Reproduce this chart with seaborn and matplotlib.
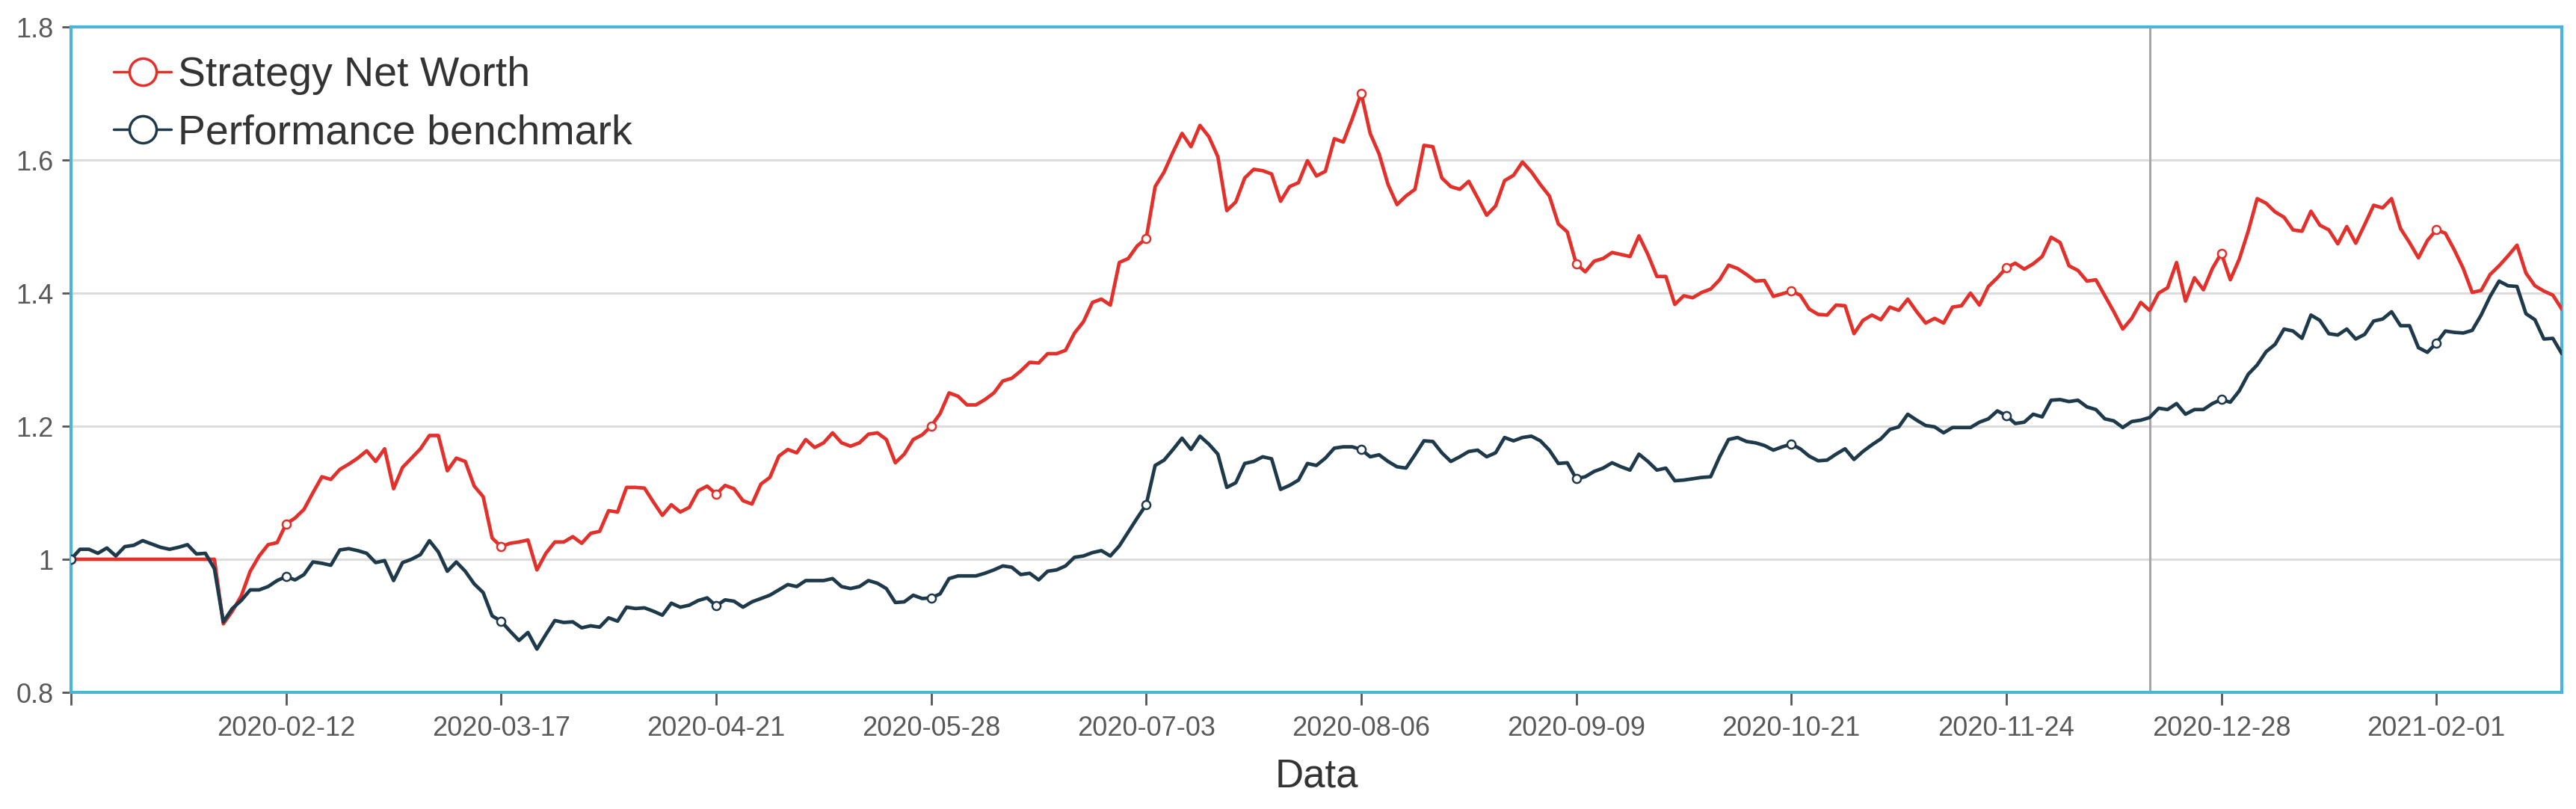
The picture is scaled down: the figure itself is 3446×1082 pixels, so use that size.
import numpy as np
import pandas as pd
import seaborn as sns
import matplotlib.pyplot as plt
from matplotlib.lines import Line2D

# A-share trading calendar (exchange holidays that fall on weekdays)
holidays = ['2020-01-01', '2020-01-24', '2020-01-27', '2020-01-28', '2020-01-29',
            '2020-01-30', '2020-01-31', '2020-04-06', '2020-05-01', '2020-05-04',
            '2020-05-05', '2020-06-25', '2020-06-26', '2020-10-01', '2020-10-02',
            '2020-10-05', '2020-10-06', '2020-10-07', '2020-10-08', '2021-01-01',
            '2021-02-11', '2021-02-12', '2021-02-15', '2021-02-16', '2021-02-17']
trade_days = pd.bdate_range('2019-12-31', '2021-02-26', freq='C', holidays=holidays)

# Strategy net worth, one value per trading day
strategy = [
    1.000, 1.000, 1.000, 1.000, 1.000, 1.000, 1.000, 1.000, 1.000, 1.000,
    1.000, 1.000, 1.000, 1.000, 1.000, 1.000, 1.000, 0.903, 0.922, 0.945,
    0.982, 1.005, 1.022, 1.025, 1.053, 1.062, 1.075, 1.100, 1.124, 1.120,
    1.135, 1.143, 1.152, 1.163, 1.147, 1.166, 1.106, 1.138, 1.152, 1.166,
    1.186, 1.186, 1.133, 1.152, 1.147, 1.110, 1.094, 1.032, 1.019, 1.024,
    1.026, 1.029, 0.984, 1.009, 1.026, 1.026, 1.034, 1.024, 1.039, 1.042,
    1.073, 1.071, 1.108, 1.108, 1.107, 1.086, 1.066, 1.082, 1.071, 1.078,
    1.103, 1.110, 1.098, 1.111, 1.106, 1.088, 1.083, 1.113, 1.123, 1.155,
    1.165, 1.160, 1.180, 1.168, 1.175, 1.190, 1.175, 1.170, 1.175, 1.188,
    1.190, 1.180, 1.145, 1.158, 1.180, 1.187, 1.200, 1.219, 1.250, 1.245,
    1.232, 1.232, 1.240, 1.250, 1.268, 1.272, 1.283, 1.296, 1.295, 1.309,
    1.309, 1.314, 1.340, 1.357, 1.386, 1.391, 1.382, 1.446, 1.452, 1.471,
    1.482, 1.560, 1.582, 1.612, 1.640, 1.620, 1.652, 1.635, 1.605, 1.524,
    1.537, 1.573, 1.586, 1.584, 1.579, 1.538, 1.560, 1.566, 1.599, 1.576,
    1.583, 1.632, 1.627, 1.662, 1.700, 1.640, 1.609, 1.563, 1.533, 1.546,
    1.556, 1.622, 1.620, 1.573, 1.560, 1.556, 1.568, 1.543, 1.517, 1.531,
    1.569, 1.577, 1.597, 1.582, 1.563, 1.546, 1.504, 1.492, 1.444, 1.432,
    1.448, 1.452, 1.461, 1.458, 1.455, 1.486, 1.458, 1.425, 1.425, 1.383,
    1.396, 1.393, 1.401, 1.406, 1.420, 1.442, 1.437, 1.428, 1.418, 1.419,
    1.395, 1.399, 1.403, 1.397, 1.376, 1.368, 1.367, 1.382, 1.381, 1.339,
    1.359, 1.367, 1.360, 1.379, 1.374, 1.391, 1.372, 1.355, 1.362, 1.355,
    1.379, 1.381, 1.400, 1.382, 1.410, 1.423, 1.438, 1.445, 1.436, 1.444,
    1.455, 1.484, 1.476, 1.441, 1.434, 1.418, 1.420, 1.396, 1.372, 1.346,
    1.362, 1.386, 1.374, 1.400, 1.408, 1.446, 1.388, 1.423, 1.405, 1.437,
    1.460, 1.420, 1.451, 1.493, 1.542, 1.535, 1.522, 1.514, 1.495, 1.493,
    1.523, 1.502, 1.495, 1.474, 1.500, 1.475, 1.503, 1.532, 1.528, 1.542,
    1.497, 1.476, 1.453, 1.479, 1.495, 1.490, 1.465, 1.437, 1.401, 1.404,
    1.428, 1.441, 1.456, 1.472, 1.430, 1.411, 1.403, 1.397, 1.376,
]

# Performance benchmark, one value per trading day
benchmark = [
    1.000, 1.015, 1.015, 1.009, 1.017, 1.005, 1.019, 1.021, 1.028, 1.023,
    1.018, 1.015, 1.018, 1.022, 1.008, 1.009, 0.986, 0.906, 0.926, 0.938,
    0.954, 0.954, 0.959, 0.968, 0.974, 0.969, 0.977, 0.996, 0.994, 0.991,
    1.014, 1.016, 1.013, 1.009, 0.995, 0.998, 0.968, 0.995, 1.000, 1.007,
    1.028, 1.011, 0.982, 0.996, 0.982, 0.963, 0.950, 0.915, 0.907, 0.892,
    0.878, 0.890, 0.865, 0.887, 0.908, 0.905, 0.906, 0.897, 0.900, 0.898,
    0.912, 0.907, 0.928, 0.926, 0.927, 0.922, 0.916, 0.934, 0.928, 0.931,
    0.938, 0.942, 0.930, 0.939, 0.937, 0.928, 0.936, 0.941, 0.946, 0.954,
    0.962, 0.959, 0.968, 0.968, 0.968, 0.971, 0.959, 0.956, 0.959, 0.968,
    0.964, 0.956, 0.935, 0.936, 0.946, 0.941, 0.942, 0.948, 0.971, 0.975,
    0.975, 0.975, 0.979, 0.984, 0.990, 0.988, 0.977, 0.979, 0.969, 0.982,
    0.984, 0.990, 1.003, 1.005, 1.010, 1.013, 1.005, 1.020, 1.041, 1.062,
    1.082, 1.141, 1.149, 1.165, 1.182, 1.165, 1.185, 1.173, 1.158, 1.108,
    1.115, 1.144, 1.147, 1.154, 1.151, 1.105, 1.111, 1.119, 1.144, 1.141,
    1.152, 1.167, 1.169, 1.169, 1.165, 1.154, 1.157, 1.147, 1.139, 1.137,
    1.157, 1.178, 1.177, 1.160, 1.147, 1.154, 1.162, 1.164, 1.154, 1.160,
    1.183, 1.178, 1.183, 1.185, 1.178, 1.164, 1.144, 1.145, 1.121, 1.124,
    1.132, 1.137, 1.145, 1.139, 1.134, 1.158, 1.147, 1.134, 1.137, 1.118,
    1.119, 1.121, 1.123, 1.124, 1.154, 1.180, 1.183, 1.177, 1.175, 1.171,
    1.164, 1.169, 1.173, 1.166, 1.155, 1.148, 1.149, 1.158, 1.166, 1.150,
    1.162, 1.172, 1.181, 1.195, 1.199, 1.218, 1.209, 1.201, 1.199, 1.190,
    1.198, 1.198, 1.198, 1.206, 1.211, 1.223, 1.216, 1.204, 1.206, 1.218,
    1.214, 1.239, 1.240, 1.237, 1.239, 1.229, 1.225, 1.211, 1.208, 1.198,
    1.207, 1.209, 1.213, 1.227, 1.225, 1.234, 1.218, 1.225, 1.225, 1.234,
    1.240, 1.236, 1.253, 1.278, 1.292, 1.312, 1.323, 1.346, 1.343, 1.332,
    1.367, 1.359, 1.339, 1.337, 1.346, 1.331, 1.338, 1.358, 1.361, 1.372,
    1.351, 1.351, 1.318, 1.311, 1.325, 1.343, 1.341, 1.340, 1.344, 1.367,
    1.395, 1.418, 1.411, 1.410, 1.369, 1.360, 1.331, 1.332, 1.309,
]

series_names = ['Strategy Net Worth', 'Performance benchmark']
colors = ['#e3302b', '#1e3a4a']
y_ticks = [0.8, 1.0, 1.2, 1.4, 1.6, 1.8]
y_tick_labels = ['0.8', '1', '1.2', '1.4', '1.6', '1.8']
label_step = 24          # one date label every 24 trading days
split_date = '2020-12-16'

df = pd.DataFrame({
    'pos': np.arange(len(trade_days)),
    'date': trade_days.strftime('%Y-%m-%d'),
    series_names[0]: strategy,
    series_names[1]: benchmark,
})

sns.set_style('white')
plt.rcParams['font.family'] = ['Liberation Sans', 'DejaVu Sans']

W, H = 3446, 1082
fig = plt.figure(figsize=(W / 100, H / 100), dpi=100)
ax = fig.add_axes([95 / W, 1 - 926 / H, (3427 - 95) / W, (926 - 36) / H])

for name, col in zip(series_names, colors):
    sns.lineplot(data=df, x='pos', y=name, ax=ax, color=col, linewidth=3.4,
                 marker='o', markersize=8, markevery=label_step,
                 markerfacecolor='white', markeredgecolor=col, markeredgewidth=1.8,
                 zorder=3)

# train / test split marker
split_pos = df.loc[df['date'] == split_date, 'pos'].iloc[0]
ax.axvline(split_pos, color='#a6a6a6', linewidth=2.2, zorder=2)

ax.set_xlim(0, len(df) - 1)
ax.set_ylim(0.8, 1.8)

tick_pos = df['pos'][::label_step]
tick_lab = [''] + list(df['date'][::label_step][1:])
ax.set_xticks(tick_pos)
ax.set_xticklabels(tick_lab)
ax.set_yticks(y_ticks)
ax.set_yticklabels(y_tick_labels)

ax.tick_params(axis='x', length=12, width=2, color='#555555', labelsize=26,
               labelcolor='#595959', pad=10, bottom=True)
ax.tick_params(axis='y', length=9, width=2, color='#555555', labelsize=26,
               labelcolor='#595959', pad=8, left=True)

ax.yaxis.grid(True, color='#dcdcdc', linewidth=2.2)
ax.xaxis.grid(False)
ax.set_axisbelow(True)

for sp in ax.spines.values():
    sp.set_visible(True)
    sp.set_color('#4cb3da')
    sp.set_linewidth(3)

ax.set_xlabel('Data', fontsize=38, color='#333333', labelpad=16)
ax.set_ylabel('')

handles = [Line2D([], [], color=c, linewidth=2.5, marker='o', markersize=26,
                  markerfacecolor='white', markeredgecolor=c, markeredgewidth=2.5)
           for c in colors]
ax.legend(handles, series_names, loc='upper left', bbox_to_anchor=(0.017, 0.956),
          frameon=False, fontsize=40, handlelength=1.4, handletextpad=0.15,
          labelspacing=0.45, borderaxespad=0, borderpad=0, labelcolor='#333333')

fig.savefig('out.png', dpi=100)
